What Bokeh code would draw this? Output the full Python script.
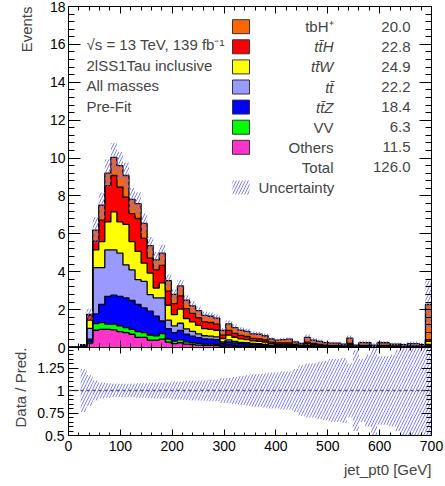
import numpy as np
from bokeh.plotting import figure
from bokeh.layouts import column
from bokeh.models import (Range1d, LinearAxis, SingleIntervalTicker, FixedTicker, Title,
                          Label, BoxAnnotation, Span, PrintfTickFormatter)
from bokeh.embed import file_html
from bokeh.resources import INLINE

# ---------------- data ----------------
x_min, x_max, n_bins = 0, 700, 60

tbH = [0, 0, 0.01, 0.05, 0.58, 0.79, 0.65, 0.96, 1.13, 1.14, 0.75, 0.78, 0.79, 0.66, 0.53, 0.65,
       0.55, 0.48, 0.52, 0.45, 0.40, 0.38, 0.35, 0.33, 0.32,
       0.25, 0.35, 0.30, 0.28, 0.27, 0.24, 0.24, 0.22, 0.17, 0.15, 0.18, 0.20,
       0.13, 0.09, 0.25, 0.18, 0.15, 0.13, 0.12, 0.12, 0.10, 0.28, 0.07, 0.15, 0.14, 0.07,
       0.14, 0.14, 0.10, 0.10, 0.08, 0.11, 0.11, 0.08, 1.85]
ttH = [0, 0, 0.02, 0.25, 0.47, 1.13, 1.92, 1.92, 1.84, 1.44, 1.48, 1.74, 1.31, 0.79, 0.96, 0.92,
       0.75, 0.58, 0.70, 0.52, 0.45, 0.40, 0.35, 0.36, 0.32,
       0.18, 0.25, 0.21, 0.18, 0.16, 0.13, 0.13, 0.11, 0.08, 0.07, 0.07, 0.07,
       0.05, 0.04, 0.08, 0.06, 0.05, 0.04, 0.03, 0.03, 0.02, 0.06, 0.01, 0.03, 0.03, 0.01,
       0.03, 0.03, 0.02, 0.02, 0.02, 0.02, 0.02, 0.02, 0.10]
ttW = [0, 0, 0.03, 0.44, 0.93, 1.37, 1.48, 2.01, 1.65, 2.14, 1.49, 1.49, 0.96, 1.14, 0.52, 0.79,
       0.78, 0.60, 0.75, 0.55, 0.50, 0.45, 0.38, 0.36, 0.35,
       0.18, 0.25, 0.22, 0.19, 0.17, 0.14, 0.13, 0.12, 0.08, 0.07, 0.07, 0.07,
       0.05, 0.03, 0.08, 0.06, 0.05, 0.04, 0.03, 0.03, 0.02, 0.06, 0.01, 0.03, 0.03, 0.01,
       0.03, 0.03, 0.02, 0.02, 0.02, 0.03, 0.03, 0.02, 0.15]
tt = [0, 0, 0.05, 0.57, 2.44, 1.95, 2.45, 2.39, 2.28, 1.74, 1.62, 1.31, 1.40, 0.87, 0.96, 1.22,
      0.45, 0.35, 0.38, 0.28, 0.25, 0.20, 0.17, 0.16, 0.15,
      0.08, 0.10, 0.08, 0.07, 0.06, 0.05, 0.05, 0.04, 0.03, 0.03, 0.03, 0.03,
      0.02, 0.01, 0.03, 0.02, 0.02, 0.01, 0.01, 0.01, 0.01, 0.02, 0.01, 0.01, 0.01, 0.01,
      0.01, 0.01, 0.01, 0.01, 0.01, 0.01, 0.01, 0.01, 0.04]
ttZ = [0, 0, 0.02, 0.14, 0.52, 0.96, 1.47, 1.53, 1.56, 1.57, 1.52, 1.43, 1.30, 1.26, 1.05, 0.66,
       0.55, 0.45, 0.50, 0.40, 0.35, 0.30, 0.27, 0.26, 0.25,
       0.12, 0.17, 0.14, 0.12, 0.11, 0.09, 0.09, 0.08, 0.05, 0.04, 0.04, 0.04,
       0.03, 0.02, 0.05, 0.04, 0.03, 0.02, 0.02, 0.02, 0.01, 0.04, 0.01, 0.02, 0.02, 0.01,
       0.02, 0.02, 0.01, 0.01, 0.01, 0.01, 0.01, 0.01, 0.05]
VV = [0, 0, 0.01, 0.07, 0.35, 0.35, 0.27, 0.30, 0.30, 0.26, 0.26, 0.31, 0.26, 0.27, 0.22, 0.30,
      0.17, 0.14, 0.15, 0.12, 0.10, 0.09, 0.07, 0.07, 0.06,
      0.04, 0.05, 0.04, 0.03, 0.03, 0.03, 0.02, 0.02, 0.02, 0.01, 0.01, 0.01,
      0.01, 0.01, 0.02, 0.01, 0.01, 0.01, 0.01, 0.01, 0.01, 0.01, 0.00, 0.01, 0.01, 0.00,
      0.01, 0.01, 0.01, 0.01, 0.00, 0.01, 0.01, 0.00, 0.02]
others = [0, 0, 0.01, 0.23, 0.91, 0.96, 0.96, 0.93, 0.84, 0.79, 0.70, 0.53, 0.53, 0.39, 0.39, 0.44,
          0.28, 0.20, 0.25, 0.18, 0.15, 0.13, 0.11, 0.11, 0.10,
          0.05, 0.08, 0.06, 0.05, 0.05, 0.04, 0.04, 0.03, 0.02, 0.02, 0.02, 0.02,
          0.01, 0.01, 0.02, 0.02, 0.01, 0.01, 0.01, 0.01, 0.01, 0.02, 0.01, 0.01, 0.01, 0.01,
          0.01, 0.01, 0.01, 0.01, 0.01, 0.01, 0.01, 0.01, 0.06]
rel_unc = [0, 0, 0.24, 0.17, 0.11, 0.09, 0.08, 0.075, 0.075, 0.075, 0.075, 0.08, 0.08, 0.085, 0.09, 0.09,
           0.09, 0.10, 0.10, 0.105, 0.11, 0.11, 0.115, 0.12, 0.12,
           0.14, 0.14, 0.15, 0.16, 0.17, 0.18, 0.18, 0.19, 0.20, 0.20, 0.21, 0.21,
           0.24, 0.28, 0.30, 0.30, 0.32, 0.33, 0.35, 0.35, 0.36, 0.30, 0.45, 0.35, 0.40, 1.00,
           0.38, 0.38, 0.40, 0.45, 0.55, 0.60, 0.60, 0.60, 0.55]

process_names = ["tbH\u207a", "tt\u0304H", "tt\u0304W", "tt\u0304", "tt\u0304Z", "VV", "Others"]
process_yields = ["20.0", "22.8", "24.9", "22.2", "18.4", "6.3", "11.5"]
process_italic = [False, True, True, True, True, False, False]
total_yield = "126.0"
info_lines = ["\u221as = 13 TeV, 139 fb\u207b\u00b9", "2lSS1Tau inclusive", "All masses", "Pre-Fit"]
colors = ["#ff6600", "#ff0000", "#ffff00", "#9999ff", "#0000ff", "#00ff00", "#ff33cc"]

# ---------------- geometry / style ----------------
FONT = "Liberation Sans"
W_FRAME, H_MAIN, H_RATIO = 363, 341, 88
B_LEFT, B_RIGHT = 68, 13
GAP = 7  # main bottom border that the ratio panel overlaps (holds the "0" label)
HATCH = dict(hatch_pattern="/", hatch_color="#6e6eff", hatch_alpha=0.9, hatch_scale=6.0, hatch_weight=1.0)

edges = np.linspace(x_min, x_max, n_bins + 1)
left, right = edges[:-1], edges[1:]
xs_step = np.repeat(edges, 2)[1:-1]

layers_top_down = [tbH, ttH, ttW, tt, ttZ, VV, others]
layers_bottom_up = list(reversed(layers_top_down))
colors_bottom_up = list(reversed(colors))


def style_axis(ax, ticker, maj, mnr, labels=True, fmt=None, standoff=3):
    ax.ticker = ticker
    ax.major_tick_in = maj
    ax.major_tick_out = 0
    ax.minor_tick_in = mnr
    ax.minor_tick_out = 0
    ax.major_tick_line_color = "black"
    ax.minor_tick_line_color = "black"
    ax.axis_line_color = "black"
    if fmt is not None:
        ax.formatter = fmt
    if labels:
        ax.major_label_text_font = FONT
        ax.major_label_text_font_size = "14px"
        ax.major_label_text_color = "black"
        ax.major_label_standoff = standoff
    else:
        ax.major_label_text_font_size = "0px"
        ax.major_label_text_color = None
        ax.major_label_standoff = 0


def side_title(text, standoff):
    return Title(text=text, align="right", text_font=FONT, text_font_size="15px",
                 text_font_style="normal", standoff=standoff)


# ---------------- main panel ----------------
main = figure(frame_width=W_FRAME, frame_height=H_MAIN, x_range=Range1d(x_min, x_max),
              y_range=Range1d(0, 18), x_axis_type=None, y_axis_type=None,
              output_backend="svg", toolbar_location=None,
              min_border_left=B_LEFT, min_border_right=B_RIGHT, min_border_top=6, min_border_bottom=GAP)
main.outline_line_color = "black"
main.background_fill_color = "white"
main.border_fill_color = None

lower = np.zeros(n_bins)
for vals, col in zip(layers_bottom_up, colors_bottom_up):
    upper = lower + np.array(vals)
    main.varea(x=xs_step, y1=np.repeat(lower, 2), y2=np.repeat(upper, 2), fill_color=col)
    lower = upper
total = lower

lower = np.zeros(n_bins)
for vals in layers_bottom_up:
    upper = lower + np.array(vals)
    main.line(x=xs_step, y=np.repeat(upper, 2), line_color="black", line_width=1.3)
    lower = upper

rel = np.array(rel_unc)
m = rel > 0
main.quad(left=left[m], right=right[m], bottom=(total * (1 - rel))[m], top=(total * (1 + rel))[m],
          fill_color=None, line_color=None, **HATCH)

ax = LinearAxis(); style_axis(ax, SingleIntervalTicker(interval=2, num_minor_ticks=5), 12, 6, standoff=3)
main.add_layout(ax, "left")
ax = LinearAxis(); style_axis(ax, SingleIntervalTicker(interval=2, num_minor_ticks=5), 12, 6, labels=False)
main.add_layout(ax, "right")
ax = LinearAxis(); style_axis(ax, SingleIntervalTicker(interval=100, num_minor_ticks=5), 7, 4, labels=False)
main.add_layout(ax, "below")
ax = LinearAxis(); style_axis(ax, SingleIntervalTicker(interval=100, num_minor_ticks=5), 7, 4, labels=False)
main.add_layout(ax, "above")
main.add_layout(side_title("Events", 24), "left")

# legend
row_top, row_gap = 20.2, 20.1
box_l, box_r, box_h = 164, 181, 7
for i, (name, val, col, it) in enumerate(zip(process_names, process_yields, colors, process_italic)):
    yc = H_MAIN - row_top - i * row_gap
    main.add_layout(BoxAnnotation(left=box_l, right=box_r, bottom=yc - box_h, top=yc + box_h,
                                  left_units="screen", right_units="screen",
                                  bottom_units="screen", top_units="screen",
                                  fill_color=col, fill_alpha=1, line_color="#333333",
                                  line_alpha=1, line_width=1))
    main.add_layout(Label(x=265, y=yc, x_units="screen", y_units="screen", text=name,
                          text_align="right", text_baseline="middle", text_font=FONT,
                          text_font_size="15px", text_font_style="italic" if it else "normal"))
    main.add_layout(Label(x=342, y=yc, x_units="screen", y_units="screen", text=val,
                          text_align="right", text_baseline="middle", text_font=FONT,
                          text_font_size="15px"))
yc = H_MAIN - row_top - 7 * row_gap
main.add_layout(Label(x=265, y=yc, x_units="screen", y_units="screen", text="Total",
                      text_align="right", text_baseline="middle", text_font=FONT, text_font_size="15px"))
main.add_layout(Label(x=342, y=yc, x_units="screen", y_units="screen", text=total_yield,
                      text_align="right", text_baseline="middle", text_font=FONT, text_font_size="15px"))
yc = H_MAIN - row_top - 8 * row_gap
main.add_layout(BoxAnnotation(left=box_l, right=box_r, bottom=yc - box_h, top=yc + box_h,
                              left_units="screen", right_units="screen",
                              bottom_units="screen", top_units="screen",
                              fill_alpha=0, line_alpha=0, **HATCH))
main.add_layout(Label(x=190, y=yc, x_units="screen", y_units="screen", text="Uncertainty",
                      text_align="left", text_baseline="middle", text_font=FONT, text_font_size="15px"))

for j, txt in enumerate(info_lines):
    yc = H_MAIN - 38.3 - j * 20.5
    main.add_layout(Label(x=18, y=yc, x_units="screen", y_units="screen", text=txt,
                          text_align="left", text_baseline="middle", text_font=FONT,
                          text_font_size="15px"))

# ---------------- ratio panel ----------------
ratio = figure(frame_width=W_FRAME, frame_height=H_RATIO, x_range=main.x_range,
               y_range=Range1d(0.5, 1.478), x_axis_type=None, y_axis_type=None,
               output_backend="svg", toolbar_location=None,
               min_border_left=B_LEFT, min_border_right=B_RIGHT, min_border_top=0, min_border_bottom=48)
ratio.margin = (-GAP, 0, 0, 0)
ratio.outline_line_color = "black"
ratio.background_fill_color = "white"
ratio.border_fill_color = None

ratio.quad(left=left[m], right=right[m], bottom=(1 - rel)[m], top=(1 + rel)[m],
           fill_color=None, line_color=None, **HATCH)
ratio.add_layout(Span(location=1, dimension="width", line_color="#555555", line_dash="3 3", line_width=1.5))

rt_major = [0.5, 0.75, 1.0, 1.25]
rt_minor = [round(0.5 + 0.05 * k, 2) for k in range(20)]
ax = LinearAxis(); style_axis(ax, FixedTicker(ticks=rt_major, minor_ticks=rt_minor), 10, 5,
                              fmt=PrintfTickFormatter(format="%g"), standoff=4)
ratio.add_layout(ax, "left")
ax = LinearAxis(); style_axis(ax, FixedTicker(ticks=rt_major, minor_ticks=rt_minor), 10, 5, labels=False)
ratio.add_layout(ax, "right")
ax = LinearAxis(); style_axis(ax, SingleIntervalTicker(interval=100, num_minor_ticks=5), 6, 3, standoff=5)
ratio.add_layout(ax, "below")
ax = LinearAxis(); style_axis(ax, SingleIntervalTicker(interval=100, num_minor_ticks=5), 6, 3, labels=False)
ratio.add_layout(ax, "above")
ratio.add_layout(side_title("Data / Pred.", 11), "left")
ratio.add_layout(Title(text="jet_pt0 [GeV]", align="right", text_font=FONT, text_font_size="15px",
                       text_font_style="normal", standoff=11), "below")

layout = column(main, ratio)
open("out.html", "w").write(file_html(layout, INLINE))
